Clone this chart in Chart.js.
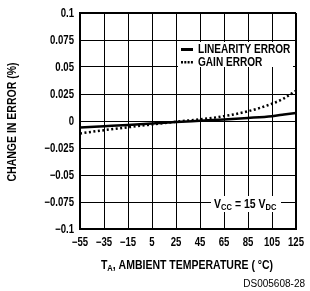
<!DOCTYPE html>
<html><head><meta charset="utf-8">
<script src="https://cdn.jsdelivr.net/npm/chart.js@4/dist/chart.umd.min.js"></script>
<style>html,body{margin:0;padding:0;background:#fff}#wrap{width:310px;height:291px;position:relative}</style>
</head><body><div id="wrap"><canvas id="c" width="310" height="291"></canvas></div>
<script>
const temps = [-55, -35, -15, 5, 25, 45, 65, 85, 105, 115, 125];
const linearityError = [-0.006, -0.0048, -0.0036, -0.0023, -0.001, 0.0002, 0.0014, 0.0028, 0.0045, 0.006, 0.0075];
const gainError = [-0.0115, -0.0085, -0.0058, -0.0032, -0.0006, 0.0015, 0.0045, 0.009, 0.016, 0.021, 0.028];
const xTickLabels = ['\u221255', '\u221235', '\u221215', '5', '25', '45', '65', '85', '105', '125'];
const yTickLabels = ['0.1', '0.075', '0.05', '0.025', '0', '\u22120.025', '\u22120.05', '\u22120.075', '\u22120.1'];
const seriesNames = ['LINEARITY ERROR', 'GAIN ERROR'];

const FONT = '"Liberation Sans", Arial, sans-serif';
const SX = 0.84;

function txt(ctx, s, x, y, size, align, sx) {
  ctx.save();
  ctx.font = 'bold ' + size + 'px ' + FONT;
  const w = ctx.measureText(s).width * (sx || SX);
  let x0 = x;
  if (align === 'center') x0 = x - w / 2;
  else if (align === 'right') x0 = x - w;
  ctx.translate(x0, y);
  ctx.scale(sx || SX, 1);
  ctx.textAlign = 'left';
  ctx.textBaseline = 'middle';
  ctx.fillText(s, 0, 0);
  ctx.restore();
  return w;
}
function width(ctx, s, size, sx) {
  ctx.save(); ctx.font = 'bold ' + size + 'px ' + FONT;
  const w = ctx.measureText(s).width * (sx || SX); ctx.restore(); return w;
}

const decor = {
  id: 'decor',
  afterDraw(chart) {
    const ctx = chart.ctx;
    const xs = chart.scales.x, ys = chart.scales.y;
    ctx.save();
    ctx.fillStyle = '#000';
    // tick labels placed with the library's scales
    xs.ticks.forEach((t, i) => {
      txt(ctx, xTickLabels[i], xs.getPixelForValue(t.value), 243, 12, 'center', 0.8);
    });
    ys.ticks.forEach((t, i) => {
      txt(ctx, yTickLabels[ys.ticks.length - 1 - i], 74, ys.getPixelForValue(t.value) + 0.5, 12, 'right', 0.8);
    });
    // legend
    const lx = 181, ly1 = 49, ly2 = 62;
    ctx.fillStyle = '#fff';
    ctx.fillRect(lx - 3, ly1 - 7, 115, 25);
    ctx.fillStyle = '#000';
    ctx.fillRect(lx, ly1 - 1, 12, 3);
    txt(ctx, seriesNames[0], lx + 17, ly1 + 1, 12, 'left');
    for (let i = 0; i < 4; i++) ctx.fillRect(lx + i * 3.3, ly2 - 1, 2, 2.5);
    txt(ctx, seriesNames[1], lx + 17, ly2 + 1, 12, 'left');
    // Vcc annotation
    const y = ys.getPixelForValue(-0.075) + 3;
    ctx.fillStyle = '#fff';
    ctx.fillRect(211, y - 9, 70, 16);
    ctx.fillStyle = '#000';
    let x = 214;
    x += txt(ctx, 'V', x, y, 12.5, 'left');
    x += txt(ctx, 'CC', x, y + 3, 9, 'left') + 3;
    x += txt(ctx, '= 15 V', x, y, 12.5, 'left');
    txt(ctx, 'DC', x, y + 3, 9, 'left');
    // x title
    const p1 = 'T', p2 = 'A', p3 = ', AMBIENT TEMPERATURE ( \u00b0C)';
    const tw = width(ctx, p1, 12.5) + width(ctx, p2, 9) + width(ctx, p3, 12.5);
    let sx = 187 - tw / 2;
    sx += txt(ctx, p1, sx, 266, 12.5, 'left');
    sx += txt(ctx, p2, sx, 269, 9, 'left');
    txt(ctx, p3, sx, 266, 12.5, 'left');
    // y title
    ctx.save();
    ctx.translate(13, 122);
    ctx.rotate(-Math.PI / 2);
    txt(ctx, 'CHANGE IN ERROR (%)', 0, 0, 12.5, 'center');
    ctx.restore();
    // id
    ctx.font = '10px "Liberation Sans", Arial, sans-serif';
    ctx.textAlign = 'right';
    ctx.textBaseline = 'middle';
    ctx.fillText('DS005608-28', 305, 284);
    ctx.restore();
  }
};

new Chart(document.getElementById('c'), {
  type: 'line',
  data: {
    datasets: [
      { label: seriesNames[0], data: temps.map((t, i) => ({x: t, y: linearityError[i]})),
        borderColor: '#000', borderWidth: 2.5, pointRadius: 0, cubicInterpolationMode: 'monotone', fill: false },
      { label: seriesNames[1], data: temps.map((t, i) => ({x: t, y: gainError[i]})),
        borderColor: '#000', borderWidth: 2.5, borderDash: [2, 2.5], pointRadius: 0, cubicInterpolationMode: 'monotone', fill: false }
    ]
  },
  options: {
    responsive: false, animation: false,
    layout: { padding: { left: 0, right: 14, top: 13, bottom: 0 } },
    plugins: { legend: { display: false }, tooltip: { enabled: false } },
    scales: {
      x: {
        type: 'linear', min: -55, max: 125,
        afterBuildTicks(s) { s.ticks = xTickLabels.map((_, i) => ({value: -55 + 20 * i})); },
        afterFit(s) { s.height = 62; },
        grid: { color: '#000', lineWidth: c => (c.index === xTickLabels.length - 1 ? 2 : 1), drawTicks: false },
        border: { color: '#000', width: 2 },
        ticks: { display: false }
      },
      y: {
        type: 'linear', min: -0.1, max: 0.1,
        afterBuildTicks(s) { s.ticks = yTickLabels.map((_, i) => ({value: -0.1 + 0.025 * i})); },
        afterFit(s) { s.width = 80; },
        grid: { color: '#000', lineWidth: c => (c.index === yTickLabels.length - 1 ? 2 : 1), drawTicks: false },
        border: { color: '#000', width: 2 },
        ticks: { display: false }
      }
    }
  },
  plugins: [decor]
});
</script></body></html>
